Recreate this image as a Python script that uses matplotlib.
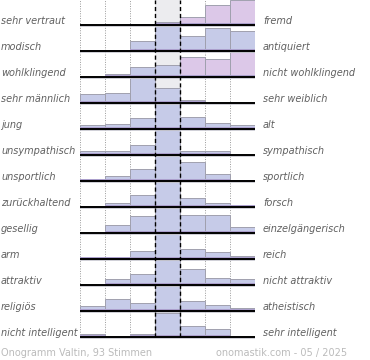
import matplotlib
matplotlib.use("Agg")
import matplotlib.pyplot as plt
from matplotlib.patches import Rectangle

left_labels = ["sehr vertraut", "modisch", "wohlklingend", "sehr männlich", "jung",
               "unsympathisch", "unsportlich", "zurückhaltend", "gesellig", "arm",
               "attraktiv", "religiös", "nicht intelligent"]
right_labels = ["fremd", "antiquiert", "nicht wohlklingend", "sehr weiblich", "alt",
                "sympathisch", "sportlich", "forsch", "einzelgängerisch", "reich",
                "nicht attraktiv", "atheistisch", "sehr intelligent"]
# relative bar heights per row (7 bins, max ~96)
values = [
    [0, 0, 5, 11, 31, 76, 96],
    [4, 4, 37, 97, 57, 89, 77],
    [0, 12, 38, 45, 76, 70, 96],
    [36, 40, 97, 57, 10, 0, 0],
    [17, 21, 41, 96, 48, 24, 16],
    [15, 15, 37, 96, 15, 15, 0],
    [7, 20, 48, 96, 75, 28, 5],
    [4, 16, 48, 96, 34, 16, 7],
    [0, 30, 67, 96, 68, 68, 23],
    [8, 8, 30, 96, 40, 28, 11],
    [0, 22, 44, 96, 60, 26, 22],
    [20, 46, 30, 96, 40, 23, 12],
    [10, 4, 10, 92, 44, 31, 0],
]
pink_bars = {(0, 4), (0, 5), (0, 6), (2, 4), (2, 5), (2, 6)}
footer_left = "Onogramm Valtin, 93 Stimmen"
footer_right = "onomastik.com - 05 / 2025"

W, H = 370, 360
fig = plt.figure(figsize=(W / 100, H / 100), dpi=100)
PITCH = 26.0
ax_top_px, ax_bot_px = 0, 340
ax = fig.add_axes([80 / W, (H - ax_bot_px) / H, 175 / W, (ax_bot_px - ax_top_px) / H])
ax.set_xlim(0, 7)
ax.set_ylim(-ax_bot_px / PITCH, 0)
ax.axis("off")

n = len(values)
last_base = -(25 + PITCH * (n - 1)) / PITCH
# center column background
ax.add_patch(Rectangle((3, last_base), 1, -last_base, facecolor="#ececef", edgecolor="none", zorder=0))
for xv in [0, 1, 2, 5, 6, 7]:
    ax.plot([xv, xv], [last_base, 0], color="#999999", lw=0.7, ls=(0, (1, 1.5)), zorder=1)

blue = "#c6cbe8"
pink = "#dcc8e8"
for i, row in enumerate(values):
    base = -(25 + PITCH * i) / PITCH
    for j, v in enumerate(row):
        h = v / 100.0
        if h <= 0:
            continue
        col = pink if (i, j) in pink_bars else blue
        ax.add_patch(Rectangle((j, base), 1, h, facecolor=col, edgecolor="#a0a0ae", lw=0.7, zorder=2))
        ax.add_patch(Rectangle((j, base), 1, min(h, 0.07), facecolor="#ab9fcc", edgecolor="none", zorder=3))
    ax.plot([0, 7], [base, base], color="black", lw=1.4, zorder=5, solid_capstyle="butt")
    ax.plot([0, 7], [base - 0.05, base - 0.05], color="#c8c8d0", lw=0.6, zorder=4)
    fig.text(1 / W, 1 - (25 + PITCH * i - 1.5) / H, left_labels[i], ha="left", va="baseline",
             fontsize=7, style="italic", color="#606060")
    fig.text(263 / W, 1 - (25 + PITCH * i - 1.5) / H, right_labels[i], ha="left", va="baseline",
             fontsize=7, style="italic", color="#606060")

for xv in [3, 4]:
    ax.plot([xv, xv], [last_base, 0], color="black", lw=1.0, ls=(0, (3, 2)), zorder=6)

fig.text(1 / W, 1 - 356 / H, footer_left, ha="left", va="baseline", fontsize=7, color="#bbbbbb")
fig.text(347 / W, 1 - 356 / H, footer_right, ha="right", va="baseline", fontsize=7, color="#bbbbbb")

fig.savefig("out.png", dpi=100)
